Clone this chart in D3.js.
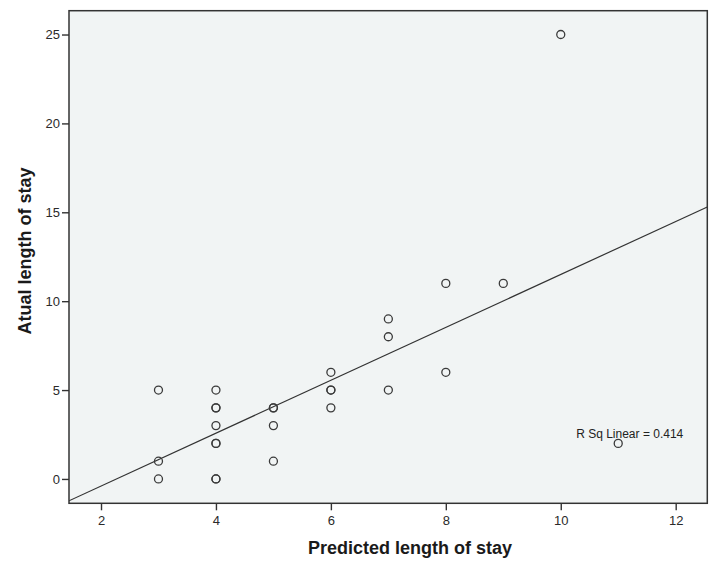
<!DOCTYPE html>
<html><head><meta charset="utf-8">
<script src="https://cdn.jsdelivr.net/npm/d3@7"></script>
<style>
html,body{margin:0;padding:0;background:#fff;}
svg{display:block;font-family:"Liberation Sans",Arial,sans-serif;}
</style></head>
<body>
<svg id="chart" width="717" height="569"></svg>
<script>
// Data (duplicates appear as heavier circles)
const predicted = [3,3,3, 4,4,4,4,4,4,4,4, 5,5,5,5, 6,6,6,6, 7,7,7, 8,8, 9, 10, 11];
const actual    = [5,1,0, 5,4,4,3,2,2,0,0, 4,4,3,1, 6,5,5,4, 9,8,5, 11,6, 11, 25, 2];
const xTicks = [2,4,6,8,10,12];
const yTicks = [0,5,10,15,20,25];
const xTitle = "Predicted length of stay";
const yTitle = "Atual length of stay";
const rsqLabel = "R Sq Linear = 0.414";

const svg = d3.select("#chart");
const L = 69, R = 707.3, T = 10.7, B = 503.3;
const x = d3.scaleLinear().domain([1.443, 12.55]).range([L, R]);
const y = d3.scaleLinear().domain([-1.37, 26.34]).range([B, T]);

svg.append("rect").attr("x", L).attr("y", T).attr("width", R - L).attr("height", B - T)
  .attr("fill", "#f1f4f4").attr("stroke", "none");

svg.append("clipPath").attr("id", "clip").append("rect")
  .attr("x", L).attr("y", T).attr("width", R - L).attr("height", B - T);

// regression line (least squares on the data)
const n = predicted.length;
const mx = d3.mean(predicted), my = d3.mean(actual);
let sxy = 0, sxx = 0;
for (let i = 0; i < n; i++) { sxy += (predicted[i]-mx)*(actual[i]-my); sxx += (predicted[i]-mx)**2; }
const slope = sxy / sxx, icpt = my - slope * mx;
const [x0, x1] = x.domain();
svg.append("line").attr("clip-path", "url(#clip)")
  .attr("x1", x(x0)).attr("y1", y(icpt + slope * x0))
  .attr("x2", x(x1)).attr("y2", y(icpt + slope * x1))
  .attr("stroke", "#333").attr("stroke-width", 1.2);

// points
svg.append("g").selectAll("circle").data(predicted.map((p, i) => [p, actual[i]]))
  .join("circle")
  .attr("cx", d => x(d[0])).attr("cy", d => y(d[1])).attr("r", 4)
  .attr("fill", "none").attr("stroke", "#3a3a3a").attr("stroke-width", 1.3);

// frame
svg.append("rect").attr("x", L).attr("y", T).attr("width", R - L).attr("height", B - T)
  .attr("fill", "none").attr("stroke", "#333").attr("stroke-width", 1.5);

// axes
const xAxis = svg.append("g").attr("transform", `translate(0,${B})`)
  .call(d3.axisBottom(x).tickValues(xTicks).tickSize(7).tickPadding(5).tickSizeOuter(0));
const yAxis = svg.append("g").attr("transform", `translate(${L},0)`)
  .call(d3.axisLeft(y).tickValues(yTicks).tickSize(7).tickPadding(2).tickSizeOuter(0));
[xAxis, yAxis].forEach(g => {
  g.select(".domain").remove();
  g.selectAll(".tick line").attr("stroke", "#333").attr("stroke-width", 1.4);
  g.selectAll(".tick text").attr("fill", "#2a2a2a").style("font-size", "13px")
   .style("font-family", '"Liberation Sans",Arial,sans-serif');
});

// R Sq label
svg.append("text").attr("x", x(11.2)).attr("y", 438).attr("text-anchor", "middle")
  .style("font-size", "12px").attr("fill", "#222").text(rsqLabel);

// titles
svg.append("text").attr("x", 410).attr("y", 554).attr("text-anchor", "middle")
  .style("font-size", "18px").style("font-weight", "bold").attr("fill", "#1a1a1a").text(xTitle);
svg.append("text").attr("transform", `translate(31,251) rotate(-90)`)
  .attr("text-anchor", "middle")
  .style("font-size", "18px").style("font-weight", "bold").attr("fill", "#1a1a1a").text(yTitle);
</script>
</body></html>
